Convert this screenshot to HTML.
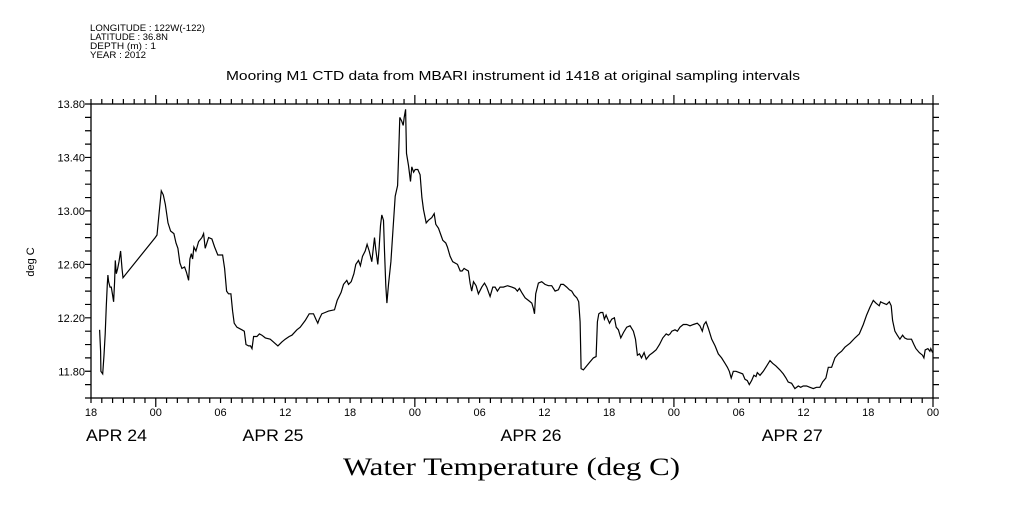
<!DOCTYPE html>
<html><head><meta charset="utf-8"><style>
body{margin:0;background:#fff;width:1009px;height:504px;overflow:hidden}
svg text{font-family:"Liberation Sans",sans-serif;fill:#000}
</style></head><body>
<svg width="1009" height="504" viewBox="0 0 1009 504">
<g font-size="9">
<text x="90" y="31" textLength="115" lengthAdjust="spacingAndGlyphs">LONGITUDE : 122W(-122)</text>
<text x="90" y="40" textLength="78" lengthAdjust="spacingAndGlyphs">LATITUDE : 36.8N</text>
<text x="90" y="49" textLength="66" lengthAdjust="spacingAndGlyphs">DEPTH (m) : 1</text>
<text x="90" y="58" textLength="56" lengthAdjust="spacingAndGlyphs">YEAR : 2012</text>
</g>
<text x="226" y="80" font-size="13" textLength="574" lengthAdjust="spacingAndGlyphs">Mooring M1 CTD data from MBARI instrument id 1418 at original sampling intervals</text>
<text transform="translate(34,262) rotate(-90)" font-size="11" text-anchor="middle">deg C</text>
<text x="343" y="475" font-size="25" textLength="337" lengthAdjust="spacingAndGlyphs" style="font-family:'Liberation Serif',serif">Water Temperature (deg C)</text>
<g id="axes"></g>
<rect x="91" y="104" width="842" height="294" fill="none" stroke="#000" stroke-width="1.3"/>
<path id="line" fill="none" stroke="#000" stroke-width="1.2"/>
</svg>
<script>
const hours=[0.80,0.89,0.92,1.08,1.20,1.32,1.42,1.51,1.57,1.63,1.76,1.88,2.0,2.09,2.19,2.25,2.34,2.47,2.59,2.74,2.87,2.96,5.95,6.11,6.32,6.51,6.70,6.88,7.13,7.37,7.68,7.87,8.05,8.24,8.42,8.67,8.85,9.04,9.16,9.29,9.41,9.53,9.72,9.97,10.27,10.43,10.58,10.89,11.20,11.45,11.75,12.00,12.19,12.38,12.56,12.74,12.96,13.12,13.27,13.52,13.98,14.2,14.36,14.6,14.78,14.91,15.06,15.37,15.6,15.83,16.15,16.6,16.9,17.31,17.68,17.99,18.36,18.61,19.07,19.38,19.84,20.21,20.61,20.83,21.01,21.14,21.38,21.69,22.0,22.56,22.81,23.17,23.39,23.7,23.85,24.1,24.35,24.53,24.78,24.96,25.15,25.4,25.58,25.77,26.01,26.26,26.38,26.57,26.69,26.82,26.94,27.1,27.19,27.31,27.41,27.56,27.78,27.97,28.18,28.4,28.52,28.61,28.79,28.92,29.01,29.14,29.23,29.41,29.60,29.72,29.88,30.03,30.27,30.49,30.65,30.80,31.05,31.26,31.57,31.79,31.94,32.19,32.41,32.59,32.87,33.02,33.27,33.51,33.95,34.2,34.38,34.56,34.75,34.96,35.12,35.27,35.43,35.67,35.89,36.2,36.45,36.66,36.97,37.22,37.43,37.65,37.9,38.2,38.58,38.98,39.29,39.5,39.69,39.9,40.21,40.52,40.83,40.98,41.08,41.2,41.45,41.75,42.06,42.37,42.68,42.99,43.3,43.52,43.76,44.07,44.32,44.53,44.75,45.0,45.18,45.31,45.40,45.61,45.92,46.23,46.54,46.79,46.91,47.04,47.22,47.41,47.56,47.72,47.87,48.03,48.24,48.49,48.65,48.86,49.08,49.33,49.63,49.94,50.25,50.44,50.62,50.81,51.0,51.24,51.43,51.73,52.04,52.35,52.66,52.97,53.28,53.49,53.65,53.80,54.1,54.32,54.56,54.87,55.18,55.49,55.8,56.17,56.41,56.63,56.79,56.97,57.19,57.5,57.81,58.11,58.42,58.73,58.95,59.13,59.31,59.5,59.75,60.06,60.37,60.58,60.8,60.98,61.2,61.41,61.6,61.72,61.97,62.28,62.59,62.9,63.14,63.45,63.82,64.13,64.38,64.59,64.9,65.21,65.52,65.74,65.98,66.29,66.6,66.91,67.21,67.52,67.77,68.08,68.3,68.61,68.91,69.22,69.53,69.84,70.31,70.77,71.17,71.54,71.85,72.16,72.47,72.71,73.02,73.15,73.39,73.7,73.95,74.13,74.26,74.47,74.69,74.93,75.18,75.37,75.61,76.01,76.23,76.42,76.73,77.03,77.16,77.28,77.53,77.71,77.8,77.96];
const temps=[12.11,11.95,11.80,11.78,11.92,12.08,12.29,12.45,12.52,12.47,12.43,12.43,12.37,12.32,12.47,12.63,12.53,12.57,12.62,12.70,12.57,12.50,12.80,12.82,12.99,13.15,13.12,13.05,12.91,12.85,12.83,12.76,12.72,12.61,12.57,12.58,12.54,12.48,12.64,12.68,12.64,12.73,12.70,12.77,12.80,12.83,12.72,12.80,12.79,12.73,12.67,12.67,12.67,12.57,12.40,12.38,12.38,12.25,12.16,12.13,12.11,12.10,12.00,11.99,11.99,11.97,12.06,12.06,12.08,12.07,12.05,12.04,12.02,11.99,12.02,12.04,12.06,12.07,12.11,12.13,12.18,12.23,12.23,12.19,12.16,12.19,12.23,12.24,12.25,12.26,12.33,12.39,12.45,12.48,12.45,12.47,12.53,12.60,12.63,12.59,12.66,12.70,12.75,12.70,12.62,12.80,12.71,12.60,12.72,12.89,12.97,12.93,12.70,12.44,12.31,12.45,12.62,12.85,13.11,13.19,13.48,13.70,13.67,13.64,13.70,13.76,13.43,13.34,13.22,13.33,13.29,13.31,13.31,13.27,13.10,13.01,12.91,12.93,12.95,12.98,12.90,12.87,12.82,12.78,12.76,12.73,12.66,12.62,12.60,12.55,12.55,12.57,12.56,12.55,12.46,12.40,12.47,12.44,12.38,12.43,12.46,12.43,12.36,12.43,12.43,12.40,12.43,12.43,12.44,12.43,12.42,12.40,12.42,12.39,12.35,12.33,12.31,12.27,12.23,12.38,12.46,12.47,12.45,12.44,12.44,12.40,12.41,12.45,12.45,12.43,12.41,12.40,12.37,12.35,12.32,12.17,11.82,11.81,11.84,11.87,11.90,11.91,12.17,12.23,12.24,12.24,12.19,12.22,12.19,12.16,12.19,12.20,12.13,12.11,12.05,12.09,12.13,12.14,12.10,12.04,11.92,11.93,11.90,11.94,11.89,11.92,11.94,11.96,12.00,12.05,12.08,12.07,12.08,12.10,12.11,12.10,12.13,12.15,12.15,12.14,12.15,12.16,12.14,12.10,12.15,12.17,12.12,12.04,11.99,11.93,11.90,11.86,11.83,11.80,11.75,11.80,11.80,11.79,11.78,11.74,11.73,11.70,11.73,11.77,11.76,11.79,11.77,11.80,11.84,11.88,11.86,11.84,11.81,11.78,11.75,11.72,11.71,11.67,11.69,11.68,11.69,11.69,11.68,11.67,11.68,11.68,11.72,11.75,11.83,11.83,11.90,11.93,11.95,11.98,12.01,12.05,12.08,12.15,12.22,12.28,12.33,12.31,12.29,12.32,12.31,12.30,12.32,12.29,12.18,12.10,12.07,12.04,12.07,12.05,12.04,12.04,12.00,11.97,11.94,11.92,11.90,11.96,11.97,11.95,11.97,11.94];
const yTicks=[11.80,12.20,12.60,13.00,13.40,13.80];
const hourLabels=["18","00","06","12","18","00","06","12","18","00","06","12","18","00"];
const dateLabels=["APR 24","APR 25","APR 26","APR 27"];
const dateHours=[0,14.5,38.4,62.6];
const X0=91,X1=933,Y0=398,Y1=104,HMAX=78,VMIN=11.6,VMAX=13.8;
const sx=h=>X0+(X1-X0)*h/HMAX, sy=v=>Y0-(Y0-Y1)*(v-VMIN)/(VMAX-VMIN);
const NS="http://www.w3.org/2000/svg", g=document.getElementById('axes');
function el(t,a,txt){const e=document.createElementNS(NS,t);for(const k in a)e.setAttribute(k,a[k]);if(txt!=null)e.textContent=txt;g.appendChild(e);return e;}
let d='';
for(let v=11.6;v<=13.801;v+=0.1){const y=sy(v);d+=`M${X0-6} ${y}H${X0}M${X1} ${y}H${X1+6}`;}
for(let h=0;h<=HMAX;h++){const x=sx(h);const big=(h-6)%24===0;const L=big?9:5;d+=`M${x} ${Y0}V${Y0+L}M${x} ${Y1}V${Y1-L}`;}
const tk=el('path',{d:d,stroke:'#000','stroke-width':1.2,fill:'none'});


yTicks.forEach(v=>{const t=el('text',{x:85,y:sy(v)+4,'font-size':11,'text-anchor':'end'},v.toFixed(2));

});
hourLabels.forEach((s,i)=>{const t=el('text',{x:sx(i*6),y:416,'font-size':11,'text-anchor':'middle'},s);

});
dateLabels.forEach((s,i)=>{const t=el('text',{x:sx(dateHours[i])-5,y:441,'font-size':17,textLength:61,lengthAdjust:'spacingAndGlyphs'},s);

});
document.getElementById('line').setAttribute('d',hours.map((h,i)=>(i?'L':'M')+sx(h).toFixed(1)+' '+sy(temps[i]).toFixed(1)).join(''));
</script>
</body></html>
